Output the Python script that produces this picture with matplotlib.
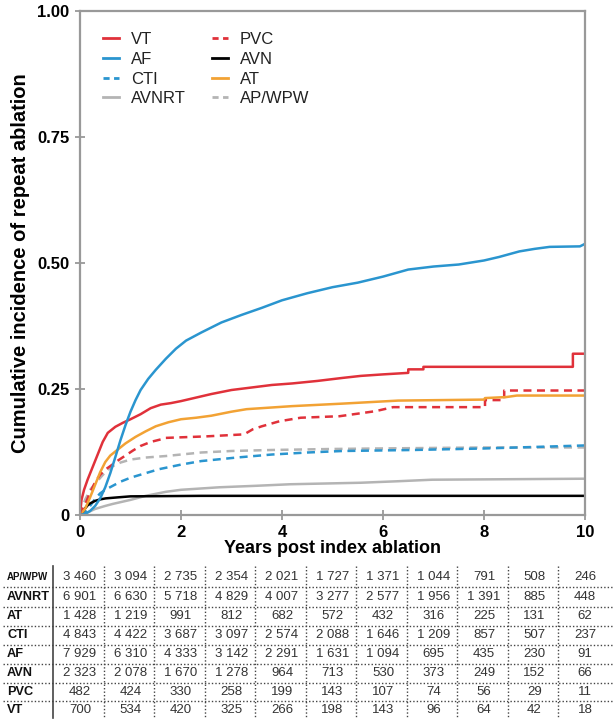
import matplotlib
matplotlib.use("Agg")
import matplotlib.pyplot as plt
from matplotlib.lines import Line2D
from matplotlib.transforms import blended_transform_factory

plt.rcParams['font.family'] = ['Liberation Sans', 'DejaVu Sans']

# Cumulative incidence curves (years, value)
vt_x = [0, 0.03, 0.08, 0.15, 0.25, 0.35, 0.45, 0.55, 0.7, 0.85, 1.0, 1.2, 1.4, 1.6, 1.8, 2.0, 2.3, 2.6, 3.0,
        3.4, 3.8, 4.2, 4.7, 5.2, 5.56, 6.0, 6.5, 6.5, 6.8, 6.8, 9.76, 9.76, 10]
vt_y = [0, 0.03, 0.05, 0.07, 0.095, 0.12, 0.145, 0.163, 0.175, 0.183, 0.19, 0.2, 0.212, 0.219, 0.222, 0.226,
        0.233, 0.24, 0.248, 0.253, 0.258, 0.261, 0.266, 0.272, 0.276, 0.279, 0.282, 0.289, 0.289, 0.294,
        0.294, 0.32, 0.32]

af_x = [0, 0.1, 0.2, 0.3, 0.4, 0.5, 0.6, 0.7, 0.8, 0.9, 1.0, 1.1, 1.2, 1.35, 1.5, 1.7, 1.9, 2.1, 2.4, 2.8,
        3.2, 3.6, 4.0, 4.5, 5.0, 5.5, 6.0, 6.5, 7.0, 7.5, 8.0, 8.3, 8.7, 9.0, 9.3, 9.9, 10]
af_y = [0, 0.002, 0.008, 0.018, 0.033, 0.055, 0.083, 0.115, 0.148, 0.178, 0.205, 0.228, 0.248, 0.27, 0.288,
        0.31, 0.33, 0.346, 0.362, 0.382, 0.397, 0.411, 0.426, 0.44, 0.452, 0.461, 0.473, 0.487, 0.493,
        0.497, 0.505, 0.512, 0.523, 0.528, 0.532, 0.533, 0.538]

at_x = [0, 0.1, 0.2, 0.3, 0.4, 0.5, 0.6, 0.75, 0.9, 1.1, 1.3, 1.5, 1.75, 2.0, 2.3, 2.6, 3.0, 3.3, 3.6, 4.2,
        5.2, 6.3, 8.0, 8.02, 8.44, 8.65, 10]
at_y = [0, 0.012, 0.035, 0.06, 0.085, 0.105, 0.118, 0.13, 0.142, 0.155, 0.166, 0.176, 0.184, 0.19, 0.193,
        0.197, 0.205, 0.21, 0.212, 0.216, 0.221, 0.227, 0.229, 0.232, 0.234, 0.237, 0.237]

pvc_x = [0, 0.1, 0.2, 0.3, 0.4, 0.5, 0.6, 0.75, 0.9, 1.05, 1.2, 1.4, 1.6, 1.7, 2.5, 3.25, 3.42, 3.6, 3.95,
         4.37, 5.14, 5.85, 6.2, 8.02, 8.02, 8.4, 8.4, 10]
pvc_y = [0, 0.02, 0.045, 0.065, 0.08, 0.09, 0.097, 0.108, 0.118, 0.128, 0.137, 0.145, 0.15, 0.153, 0.156,
         0.16, 0.17, 0.176, 0.186, 0.193, 0.196, 0.206, 0.214, 0.214, 0.228, 0.228, 0.247, 0.247]

apwpw_x = [0, 0.1, 0.2, 0.35, 0.5, 0.65, 0.8, 1.0, 1.3, 1.7, 2.4, 3.0, 3.8, 5.0, 5.9, 8.0, 10]
apwpw_y = [0, 0.03, 0.05, 0.068, 0.085, 0.097, 0.104, 0.11, 0.114, 0.117, 0.124, 0.127, 0.129, 0.131,
           0.132, 0.134, 0.134]

cti_x = [0, 0.1, 0.2, 0.3, 0.4, 0.5, 0.65, 0.8, 1.0, 1.3, 1.57, 2.0, 2.4, 3.1, 3.8, 4.5, 5.2, 6.6, 8.0, 9.0, 10]
cti_y = [0, 0.006, 0.018, 0.032, 0.043, 0.05, 0.058, 0.066, 0.074, 0.083, 0.091, 0.1, 0.107, 0.114, 0.12,
         0.124, 0.127, 0.129, 0.132, 0.135, 0.138]

avnrt_x = [0, 0.15, 0.3, 0.5, 0.65, 1.0, 1.3, 1.7, 2.0, 2.76, 3.5, 4.16, 5.56, 6.3, 6.97, 10]
avnrt_y = [0, 0.005, 0.012, 0.018, 0.022, 0.03, 0.038, 0.046, 0.05, 0.055, 0.058, 0.061, 0.064, 0.067,
           0.07, 0.072]

avn_x = [0, 0.05, 0.1, 0.15, 0.2, 0.3, 0.4, 0.51, 0.75, 1.0, 2.4, 10]
avn_y = [0, 0.006, 0.013, 0.019, 0.023, 0.028, 0.031, 0.033, 0.035, 0.037, 0.038, 0.038]

# Numbers at risk
risk_years = list(range(11))
risk_rows = ["AP/WPW", "AVNRT", "AT", "CTI", "AF", "AVN", "PVC", "VT"]
risk_apwpw = ["3 460", "3 094", "2 735", "2 354", "2 021", "1 727", "1 371", "1 044", "791", "508", "246"]
risk_avnrt = ["6 901", "6 630", "5 718", "4 829", "4 007", "3 277", "2 577", "1 956", "1 391", "885", "448"]
risk_at = ["1 428", "1 219", "991", "812", "682", "572", "432", "316", "225", "131", "62"]
risk_cti = ["4 843", "4 422", "3 687", "3 097", "2 574", "2 088", "1 646", "1 209", "857", "507", "237"]
risk_af = ["7 929", "6 310", "4 333", "3 142", "2 291", "1 631", "1 094", "695", "435", "230", "91"]
risk_avn = ["2 323", "2 078", "1 670", "1 278", "964", "713", "530", "373", "249", "152", "66"]
risk_pvc = ["482", "424", "330", "258", "199", "143", "107", "74", "56", "29", "11"]
risk_vt = ["700", "534", "420", "325", "266", "198", "143", "96", "64", "42", "18"]

RED = "#e0313a"
BLUE = "#2a95cf"
ORANGE = "#f2a234"
GRAY = "#b4b4b4"
DASH = (0, (3.2, 2.2))
LEG_DASH = (0, (2.2, 1.6))

fig = plt.figure(figsize=(6.16, 7.21), dpi=100)
ax = fig.add_axes([80 / 616, 1 - 515 / 721, 505 / 616, 504 / 721])

lw = 1.8
ax.plot(avnrt_x, avnrt_y, color=GRAY, lw=lw)
ax.plot(apwpw_x, apwpw_y, color=GRAY, lw=lw, linestyle=DASH)
ax.plot(cti_x, cti_y, color=BLUE, lw=lw, linestyle=DASH)
ax.plot(avn_x, avn_y, color="black", lw=lw)
ax.plot(pvc_x, pvc_y, color=RED, lw=lw, linestyle=DASH)
ax.plot(at_x, at_y, color=ORANGE, lw=lw)
ax.plot(vt_x, vt_y, color=RED, lw=lw)
ax.plot(af_x, af_y, color=BLUE, lw=lw)

ax.set_xlim(0, 10)
ax.set_ylim(0, 1.0)
ax.set_xticks([0, 2, 4, 6, 8, 10])
ax.set_xticklabels(["0", "2", "4", "6", "8", "10"], fontweight="bold", fontsize=12)
ax.set_yticks([0, 0.25, 0.5, 0.75, 1.0])
ax.set_yticklabels(["0", "0.25", "0.50", "0.75", "1.00"], fontweight="bold", fontsize=12)
ax.tick_params(direction="inout", length=7, width=1.3, color="#999999", pad=4)
for sp in ax.spines.values():
    sp.set_color("#999999")
    sp.set_linewidth(1.6)

ax.set_ylabel("Cumulative incidence of repeat ablation", fontweight="bold", fontsize=14.5, labelpad=5)
ax.set_xlabel("Years post index ablation", fontweight="bold", fontsize=13, labelpad=0)

handles = [
    Line2D([], [], color=RED, lw=2),
    Line2D([], [], color=BLUE, lw=2),
    Line2D([], [], color=BLUE, lw=2, linestyle=LEG_DASH),
    Line2D([], [], color=GRAY, lw=2),
    Line2D([], [], color=RED, lw=2, linestyle=LEG_DASH),
    Line2D([], [], color="black", lw=2),
    Line2D([], [], color=ORANGE, lw=2),
    Line2D([], [], color=GRAY, lw=2, linestyle=LEG_DASH),
]
labels = ["VT", "AF", "CTI", "AVNRT", "PVC", "AVN", "AT", "AP/WPW"]
leg = ax.legend(handles, labels, ncol=2, loc="upper left", bbox_to_anchor=(0.046, 0.958),
                frameon=False, fontsize=12, handlelength=0.95, handletextpad=0.7,
                columnspacing=1.6, labelspacing=0.28, borderaxespad=0, borderpad=0)
for t in leg.get_texts():
    t.set_color("#222222")

# Numbers-at-risk table under the plot
tr = blended_transform_factory(ax.transData, fig.transFigure)
row_y = [577, 597, 616, 635, 654, 673, 692, 710]
rows = [risk_apwpw, risk_avnrt, risk_at, risk_cti, risk_af, risk_avn, risk_pvc, risk_vt]
for name, vals, py in zip(risk_rows, rows, row_y):
    fy = 1 - py / 721
    fig.text(7 / 616, fy, name, fontweight="bold", fontsize=7 if name == "AP/WPW" else 9.2,
             ha="left", va="center", color="#111111")
    for yr, v in zip(risk_years, vals):
        fig.text(yr, fy, v, transform=tr, fontsize=9.5, ha="center", va="center", color="#333333")

for i in range(len(row_y) - 1):
    fy = 1 - (row_y[i] + row_y[i + 1]) / 2 / 721
    fig.add_artist(Line2D([3 / 616, 614 / 616], [fy, fy], transform=fig.transFigure,
                          color="#444444", lw=1, linestyle=(0, (1, 1.5))))
top_y = 1 - 566 / 721
bot_y = 1 - 718 / 721
fig.add_artist(Line2D([53 / 616, 53 / 616], [top_y, bot_y], transform=fig.transFigure,
                      color="#444444", lw=1.2))
for yr in risk_years[:-1]:
    fig.add_artist(Line2D([yr + 0.47, yr + 0.47], [top_y, bot_y], transform=tr,
                          color="#444444", lw=1, linestyle=(0, (1, 1.5))))

fig.savefig("out.png", dpi=100)
